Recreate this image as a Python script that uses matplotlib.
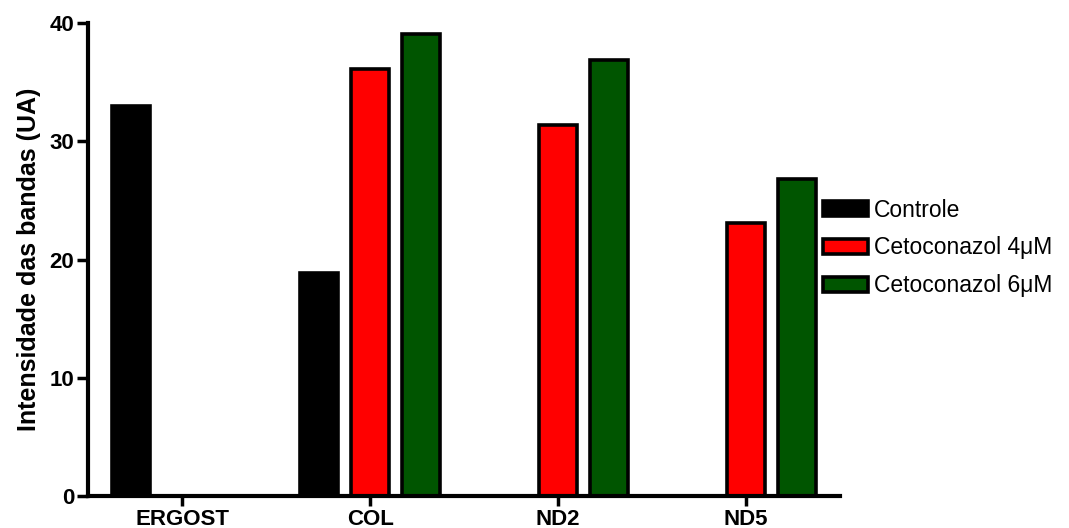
import numpy as np
import matplotlib
matplotlib.use('Agg')
import matplotlib.pyplot as plt

plt.rcParams['font.family'] = ['Liberation Sans', 'DejaVu Sans']

categories = ['ERGOST', 'COL', 'ND2', 'ND5']
series_names = ['Controle', 'Cetoconazol 4\u03bcM', 'Cetoconazol 6\u03bcM']
controle = [33.0, 18.9, 0.0, 0.0]
ceto4 = [0.0, 36.1, 31.4, 23.1]
ceto6 = [0.0, 39.1, 36.9, 26.8]
colors = ['#000000', '#ff0000', '#005500']

fig = plt.figure(figsize=(10.69, 5.28), dpi=100)
ax = fig.add_axes([0.0823, 0.0606, 0.7037, 0.8958])

x = np.arange(len(categories))
w = 0.2
step = 0.27
for i, (vals, name, c) in enumerate(zip([controle, ceto4, ceto6], series_names, colors)):
    ax.bar(x + (i - 1) * step, vals, width=w, color=c, edgecolor='black',
           linewidth=2.6, label=name, zorder=2)

ax.set_xlim(-0.5, 3.5)
ax.set_ylim(0, 40)
ax.set_yticks([0, 10, 20, 30, 40])
ax.set_xticks(x)
ax.set_xticklabels(categories, fontsize=16, fontweight='bold')
ax.tick_params(axis='y', labelsize=16, width=2.5, length=8, direction='out', pad=2)
ax.tick_params(axis='x', width=2.5, length=7, direction='out', pad=2)
for t in ax.get_yticklabels():
    t.set_fontweight('bold')
ax.set_ylabel('Intensidade das bandas (UA)', fontsize=18, fontweight='bold', labelpad=6)

for s in ['top', 'right']:
    ax.spines[s].set_visible(False)
for s in ['left', 'bottom']:
    ax.spines[s].set_linewidth(3)
    ax.spines[s].set_zorder(3)

fig.legend(loc='center left', bbox_to_anchor=(812 / 1069, 1 - 248 / 528),
           frameon=False, fontsize=16.5, borderpad=0, handlelength=1.95,
           handleheight=0.65, handletextpad=0.25, labelspacing=0.65)

fig.savefig('out.png', dpi=100)
